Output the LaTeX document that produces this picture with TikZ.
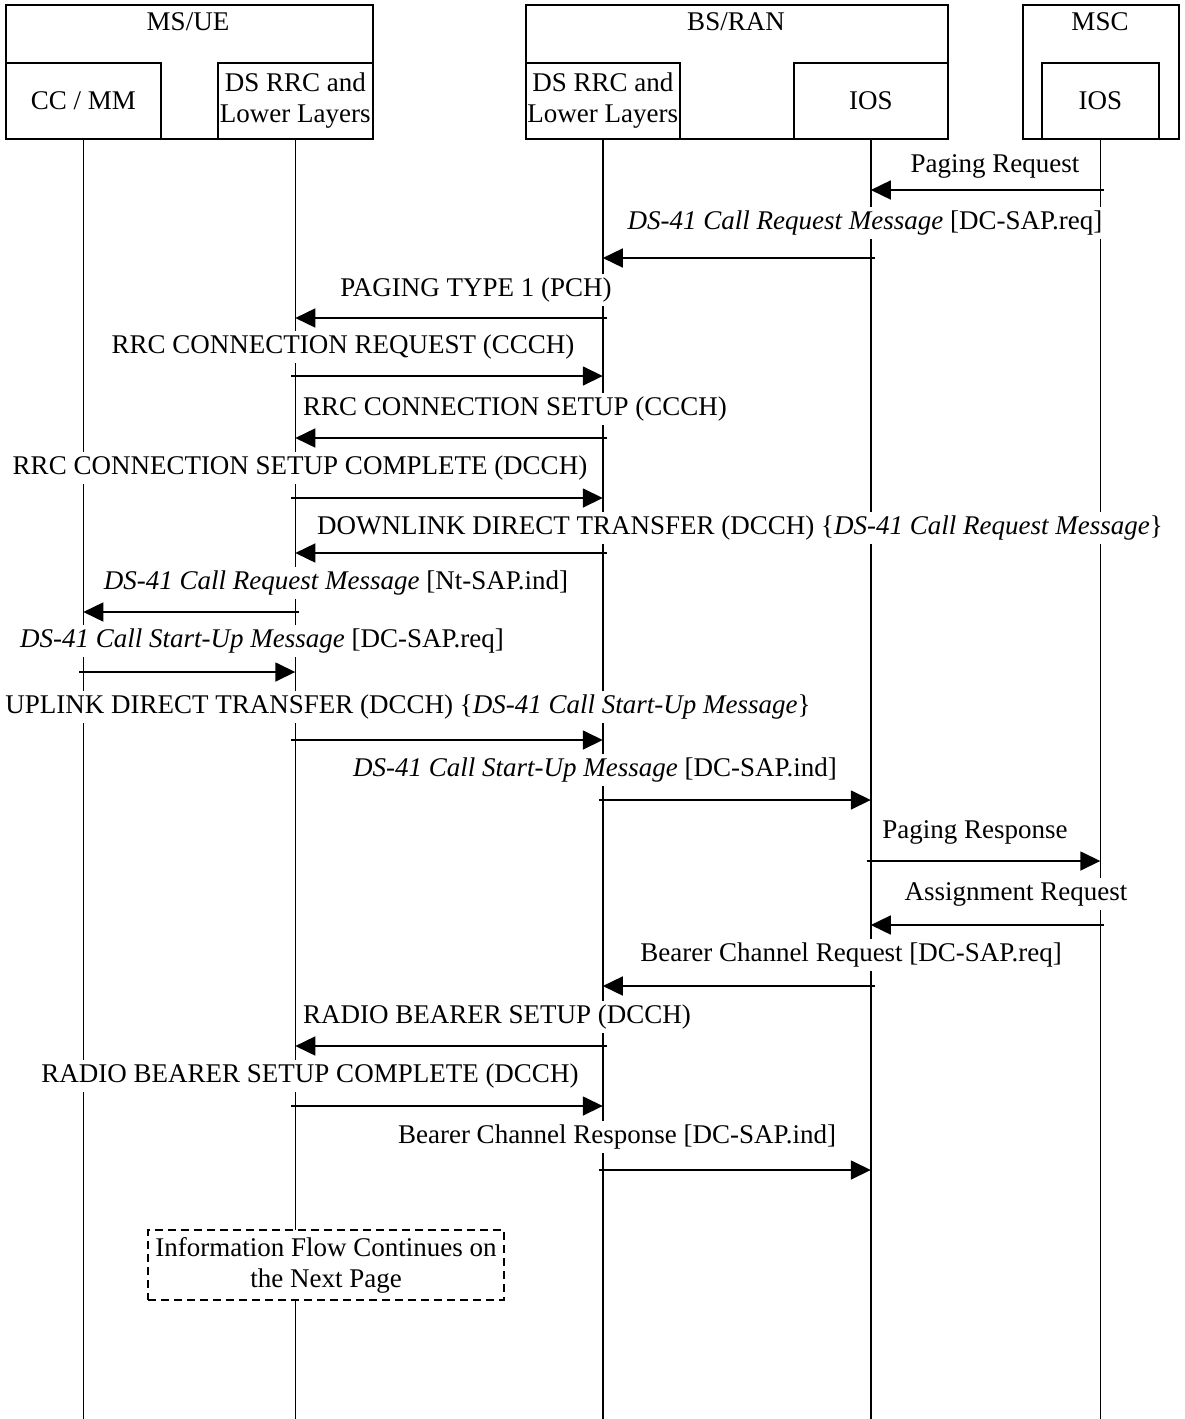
\documentclass[tikz,border=0pt]{standalone}
\usepackage{fontspec}
\setmainfont{Liberation Serif}
\usetikzlibrary{arrows.meta}
\begin{document}
\begin{tikzpicture}[x=1pt,y=-1pt,
  every node/.style={font=\fontsize{27}{31}\selectfont},
  box/.style={draw, line width=1.6pt, fill=white, anchor=north west, inner sep=0pt},
  inbox/.style={box, align=center, minimum height=76pt},
  life/.style={line width=1.6pt},
  msg/.style={line width=1.6pt, shorten <=-4pt, -{Triangle[length=20pt,width=19pt]}},
  lbl/.style={fill=white, inner xsep=1pt, inner ysep=4pt},
  note/.style={draw, dash pattern=on 8pt off 5pt, line width=1.4pt, fill=white,
    align=center, minimum width=356pt, minimum height=70pt, inner sep=2pt}]
\useasboundingbox (0,0) rectangle (1184,1419);

% entity frames
\node[box, minimum width=367pt, minimum height=134pt] (ue) at (5,4) {};
\node[box, minimum width=422pt, minimum height=134pt] (bs) at (525,4) {};
\node[box, minimum width=156pt, minimum height=134pt] (msc) at (1022,4) {};
\node (uet) at (188,22) {MS/UE};
\node (bst) at (736,22) {BS/RAN};
\node (msct) at (1100,22) {MSC};

% protocol layer boxes
\node[inbox, minimum width=155pt] (cc) at (5,62) {CC / MM};
\node[inbox, minimum width=155pt] (uerrc) at (217,62) {DS RRC and\\Lower Layers};
\node[inbox, minimum width=154pt] (bsrrc) at (525,62) {DS RRC and\\Lower Layers};
\node[inbox, minimum width=154pt] (bsios) at (793,62) {IOS};
\node[inbox, minimum width=117pt] (mscios) at (1041,62) {IOS};

% lifelines
\coordinate (bottom) at (0,1419);
\foreach \n in {cc,uerrc,bsrrc,bsios,mscios}
  \draw[life] (\n.south) -- (\n.south |- bottom);

% message rows
\coordinate (m1) at (0,190);
\coordinate (m2) at (0,258);
\coordinate (m3) at (0,318);
\coordinate (m4) at (0,376);
\coordinate (m5) at (0,438);
\coordinate (m6) at (0,498);
\coordinate (m7) at (0,553);
\coordinate (m8) at (0,612);
\coordinate (m9) at (0,672);
\coordinate (m10) at (0,740);
\coordinate (m11) at (0,800);
\coordinate (m12) at (0,861);
\coordinate (m13) at (0,925);
\coordinate (m14) at (0,986);
\coordinate (m15) at (0,1046);
\coordinate (m16) at (0,1106);
\coordinate (m17) at (0,1170);

% message labels
\node[lbl] (t1) at (995,166) {Paging Request};
\node[lbl] (t2) at (865,223) {\textit{DS-41 Call Request Message} [DC-SAP.req]};
\node[lbl] (t3) at (476,290) {PAGING TYPE 1 (PCH)};
\node[lbl] (t4) at (343,347) {RRC CONNECTION REQUEST (CCCH)};
\node[lbl] (t5) at (515,409) {RRC CONNECTION SETUP (CCCH)};
\node[lbl] (t6) at (300,468) {RRC CONNECTION SETUP COMPLETE (DCCH)};
\node[lbl] (t7) at (740,528) {DOWNLINK DIRECT TRANSFER (DCCH) \{\textit{DS-41 Call Request Message}\}};
\node[lbl] (t8) at (336,583) {\textit{DS-41 Call Request Message} [Nt-SAP.ind]};
\node[lbl] (t9) at (262,641) {\textit{DS-41 Call Start-Up Message} [DC-SAP.req]};
\node[lbl] (t10) at (408,707) {UPLINK DIRECT TRANSFER (DCCH) \{\textit{DS-41 Call Start-Up Message}\}};
\node[lbl] (t11) at (595,770) {\textit{DS-41 Call Start-Up Message} [DC-SAP.ind]};
\node[lbl] (t12) at (975,832) {Paging Response};
\node[lbl] (t13) at (1016,894) {Assignment Request};
\node[lbl] (t14) at (851,955) {Bearer Channel Request [DC-SAP.req]};
\node[lbl] (t15) at (497,1017) {RADIO BEARER SETUP (DCCH)};
\node[lbl] (t16) at (310,1076) {RADIO BEARER SETUP COMPLETE (DCCH)};
\node[lbl] (t17) at (617,1137) {Bearer Channel Response [DC-SAP.ind]};

% messages
\draw[msg] (mscios.south |- m1) -- (bsios.south |- m1);
\draw[msg] (bsios.south |- m2) -- (bsrrc.south |- m2);
\draw[msg] (bsrrc.south |- m3) -- (uerrc.south |- m3);
\draw[msg] (uerrc.south |- m4) -- (bsrrc.south |- m4);
\draw[msg] (bsrrc.south |- m5) -- (uerrc.south |- m5);
\draw[msg] (uerrc.south |- m6) -- (bsrrc.south |- m6);
\draw[msg] (bsrrc.south |- m7) -- (uerrc.south |- m7);
\draw[msg] (uerrc.south |- m8) -- (cc.south |- m8);
\draw[msg] (cc.south |- m9) -- (uerrc.south |- m9);
\draw[msg] (uerrc.south |- m10) -- (bsrrc.south |- m10);
\draw[msg] (bsrrc.south |- m11) -- (bsios.south |- m11);
\draw[msg] (bsios.south |- m12) -- (mscios.south |- m12);
\draw[msg] (mscios.south |- m13) -- (bsios.south |- m13);
\draw[msg] (bsios.south |- m14) -- (bsrrc.south |- m14);
\draw[msg] (bsrrc.south |- m15) -- (uerrc.south |- m15);
\draw[msg] (uerrc.south |- m16) -- (bsrrc.south |- m16);
\draw[msg] (bsrrc.south |- m17) -- (bsios.south |- m17);

% continuation note
\node[note] (cont) at (326,1265) {Information Flow Continues on\\the Next Page};
\end{tikzpicture}
\end{document}
